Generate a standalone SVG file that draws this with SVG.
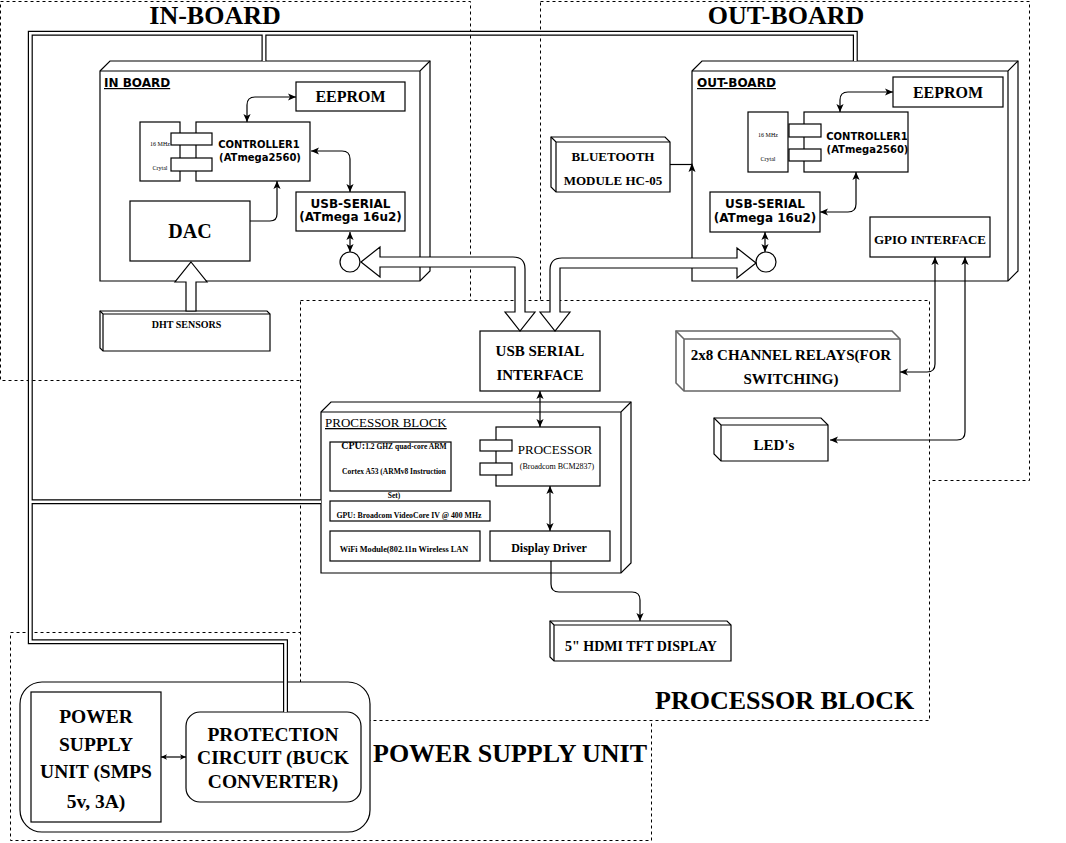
<svg xmlns="http://www.w3.org/2000/svg" width="1066" height="843" viewBox="0 0 1066 843">
<style>
.sb{font-family:"Liberation Serif","Times New Roman",serif;font-weight:bold;fill:#000}
.sr{font-family:"Liberation Serif","Times New Roman",serif;fill:#000}
.vb{font-family:"DejaVu Sans",Verdana,sans-serif;font-weight:bold;fill:#000}
.m{text-anchor:middle}
.u{text-decoration:underline}
.box{fill:#fff;stroke:#000;stroke-width:1.2}
.ln{fill:none;stroke:#000;stroke-width:1.2}
.gbox{fill:#fff;stroke:#666;stroke-width:1.6}
.gln{fill:none;stroke:#666;stroke-width:1.6}
.dash{fill:none;stroke:#000;stroke-width:1;stroke-dasharray:3 3}
.dashw{fill:#fff;stroke:#000;stroke-width:1;stroke-dasharray:3 3}
.arr{fill:none;stroke:#000;stroke-width:1.2;marker-start:url(#ah);marker-end:url(#ah)}
.arr1{fill:none;stroke:#000;stroke-width:1.2;marker-end:url(#ah)}
.arrs{fill:none;stroke:#000;stroke-width:1.2;marker-start:url(#ahs);marker-end:url(#ahs)}
.busb{fill:none;stroke:#000;stroke-width:5}
.busw{fill:none;stroke:#fff;stroke-width:2.6}
.flex{fill:#fff;stroke:#000;stroke-width:1.2}
.title{font-size:26px}
</style>
<defs>
<marker id="ah" viewBox="0 0 10 10" refX="10" refY="5" markerWidth="8" markerHeight="8" markerUnits="userSpaceOnUse" orient="auto-start-reverse">
<path d="M0,0.5 L10,5 L0,9.5 L2.5,5 Z" fill="#000"/>
</marker>
<marker id="ahs" viewBox="0 0 10 10" refX="10" refY="5" markerWidth="6" markerHeight="6" markerUnits="userSpaceOnUse" orient="auto-start-reverse">
<path d="M0,0.5 L10,5 L0,9.5 L2.5,5 Z" fill="#000"/>
</marker>
</defs>
<rect x="0" y="0" width="1066" height="843" fill="#fff"/>

<g id="psu-container">
<rect class="dash" x="10.5" y="632.5" width="641" height="208"/>
<text class="sb title" x="373" y="762">POWER SUPPLY UNIT</text>
</g>
<g id="inboard-container">
<rect class="dash" x="0.5" y="1.5" width="470" height="379"/>
<text class="sb m title" x="215" y="24">IN-BOARD</text>
</g>
<g id="outboard-container">
<rect class="dash" x="540.5" y="1.5" width="489" height="479"/>
<text class="sb m title" x="786" y="24">OUT-BOARD</text>
</g>
<g id="processor-container">
<rect class="dashw" x="300.5" y="300.5" width="629" height="420"/>
<text class="sb title" x="655" y="709">PROCESSOR BLOCK</text>
</g>

<g id="in-board">
<path class="box" d="M100,71 L110,61 L430,61 L430,271 L420,281 L100,281 Z"/>
<path class="ln" d="M100,71 H420 L430,61 M420,71 V281"/>
<text class="vb u" x="104" y="87" font-size="12">IN BOARD</text>
</g>
<g id="in-eeprom">
<rect class="box" x="296" y="82" width="109" height="29"/>
<text class="sb m" x="350.5" y="102" font-size="16">EEPROM</text>
</g>
<g id="in-crystal">
<rect class="box" x="140" y="122" width="40" height="59"/>
<text class="sr m" x="160" y="146" font-size="6">16 MHz</text>
<text class="sr m" x="160" y="170" font-size="6">Crytal</text>
</g>
<g id="in-controller">
<rect class="box" x="196" y="122" width="114" height="59"/>
<rect class="box" x="171" y="133" width="41" height="12"/>
<rect class="box" x="171" y="158" width="41" height="13"/>
<text class="vb m" x="259" y="148" font-size="10">CONTROLLER1</text>
<text class="vb m" x="260" y="161" font-size="10">(ATmega2560)</text>
</g>
<g id="in-usbserial">
<rect class="box" x="296" y="192" width="109" height="39"/>
<text class="vb m" x="350.5" y="208" font-size="12">USB-SERIAL</text>
<text class="vb m" x="350.5" y="221" font-size="12">(ATmega 16u2)</text>
</g>
<g id="in-dac">
<rect class="box" x="130" y="201" width="120" height="60"/>
<text class="sb m" x="190" y="238" font-size="20">DAC</text>
</g>
<g id="in-port">
<circle class="box" cx="350" cy="262" r="10"/>
</g>
<g id="dht">
<path class="box" d="M100,311 H267 L270,314 V351 H103 L100,348 Z"/>
<path class="ln" d="M100,311 L103,314 H270 M103,314 V351"/>
<text class="sb m" x="186.5" y="328" font-size="10">DHT SENSORS</text>
</g>

<g id="out-board">
<path class="box" d="M692,71 L702,61 L1018,61 L1018,271 L1008,281 L692,281 Z"/>
<path class="ln" d="M692,71 H1008 L1018,61 M1008,71 V281"/>
<text class="vb u" x="697" y="87" font-size="12">OUT-BOARD</text>
</g>
<g id="out-eeprom">
<rect class="box" x="893" y="77" width="110" height="30"/>
<text class="sb m" x="948" y="98" font-size="16">EEPROM</text>
</g>
<g id="out-crystal">
<rect class="box" x="748" y="112" width="40" height="60"/>
<text class="sr m" x="768" y="137" font-size="6">16 MHz</text>
<text class="sr m" x="768" y="161" font-size="6">Crytal</text>
</g>
<g id="out-controller">
<rect class="box" x="804" y="112" width="104" height="60"/>
<rect class="box" x="789" y="124" width="32" height="13"/>
<rect class="box" x="789" y="149" width="32" height="12"/>
<text class="vb m" x="867" y="140" font-size="10">CONTROLLER1</text>
<text class="vb m" x="867.5" y="153" font-size="10">(ATmega2560)</text>
</g>
<g id="out-usbserial">
<rect class="box" x="710" y="192" width="110" height="40"/>
<text class="vb m" x="765" y="208" font-size="12">USB-SERIAL</text>
<text class="vb m" x="765" y="222" font-size="12">(ATmega 16u2)</text>
</g>
<g id="out-port">
<circle class="box" cx="766" cy="262" r="10"/>
</g>
<g id="gpio">
<rect class="box" x="870" y="217" width="120" height="40"/>
<text class="sb m" x="930" y="244" font-size="13">GPIO INTERFACE</text>
</g>
<g id="bluetooth">
<path class="box" d="M551,137 H665 L670,142 V192 H556 L551,187 Z"/>
<path class="ln" d="M551,137 L556,142 H670 M556,142 V192"/>
<text class="sb m" x="613" y="161" font-size="13">BLUETOOTH</text>
<text class="sb m" x="613" y="185" font-size="13">MODULE HC-05</text>
</g>
<g id="relays">
<path class="gbox" d="M676,331 H892 L900,339 V391 H684 L676,383 Z"/>
<path class="gln" d="M676,331 L684,339 H900 M684,339 V391"/>
<text class="sb m" x="791" y="360" font-size="15">2x8 CHANNEL RELAYS(FOR</text>
<text class="sb m" x="791" y="384" font-size="15">SWITCHING)</text>
</g>
<g id="leds">
<path class="box" d="M714,418 H821 L828,425 V461 H721 L714,454 Z"/>
<path class="ln" d="M714,418 L721,425 H828 M721,425 V461"/>
<text class="sb m" x="774" y="450" font-size="15">LED's</text>
</g>

<g id="usb-serial-interface">
<rect class="box" x="480" y="331" width="120" height="60"/>
<text class="sb m" x="540" y="356" font-size="15">USB SERIAL</text>
<text class="sb m" x="540" y="380" font-size="15">INTERFACE</text>
</g>
<g id="processor-block">
<path class="box" d="M321,412 L331,402 L631,402 L631,563 L621,573 L321,573 Z"/>
<path class="ln" d="M321,412 H621 L631,402 M621,412 V573"/>
<text class="sr u" x="325" y="427" font-size="13">PROCESSOR BLOCK</text>
</g>
<g id="cpu">
<rect class="box" x="330" y="442" width="121" height="49"/>
<text class="sb m" x="394" y="449" font-size="7.5"><tspan font-size="10">CPU:</tspan>1.2 GHZ quad-core ARM</text>
<text class="sb m" x="394" y="474" font-size="7.5">Cortex A53 (ARMv8 Instruction</text>
<text class="sb m" x="394" y="498" font-size="7.5">Set)</text>
</g>
<g id="gpu">
<rect class="box" x="330" y="501" width="160" height="20"/>
<text class="sb m" x="409" y="518" font-size="7.8">GPU: Broadcom VideoCore IV @ 400 MHz</text>
</g>
<g id="wifi">
<rect class="box" x="330" y="531" width="150" height="30"/>
<text class="sb m" x="404" y="552" font-size="8.3">WiFi Module(802.11n Wireless LAN</text>
</g>
<g id="display-driver">
<rect class="box" x="490" y="531" width="120" height="30"/>
<text class="sb m" x="549" y="552" font-size="12">Display Driver</text>
</g>
<g id="processor">
<rect class="box" x="496" y="427" width="104" height="59"/>
<rect class="box" x="480" y="440" width="32" height="11"/>
<rect class="box" x="480" y="463" width="32" height="12"/>
<text class="sr m" x="555" y="454" font-size="13">PROCESSOR</text>
<text class="sr m" x="557" y="469" font-size="8">(Broadcom BCM2837)</text>
</g>
<g id="hdmi">
<path class="box" d="M550,621 H727 L731,625 V661 H554 L550,657 Z"/>
<path class="ln" d="M550,621 L554,625 H731 M554,625 V661"/>
<text class="sb m" x="641" y="651" font-size="14">5" HDMI TFT DISPLAY</text>
</g>

<g id="psu-outer">
<rect class="box" x="20" y="682" width="350" height="150" rx="22"/>
</g>
<g id="power-supply">
<rect class="box" x="31" y="692" width="130" height="130"/>
<text class="sb m" x="96" y="722.5" font-size="19.5">POWER</text>
<text class="sb m" x="96" y="750.5" font-size="19.5">SUPPLY</text>
<text class="sb m" x="96" y="778" font-size="19.5">UNIT (SMPS</text>
<text class="sb m" x="96" y="807.5" font-size="19.5">5v, 3A)</text>
</g>
<g id="protection">
<rect class="box" x="186" y="712" width="175" height="90" rx="14"/>
<text class="sb m" x="273" y="740.5" font-size="19.5">PROTECTION</text>
<text class="sb m" x="273" y="764" font-size="19.5">CIRCUIT (BUCK</text>
<text class="sb m" x="273" y="788" font-size="19.5">CONVERTER)</text>
</g>

<g id="connectors">
<path class="busb" d="M855.3,61 V33.3 H30.3 V641.7 H285.5 V712 M264,33.3 V61 M30.3,501.7 H321"/>
<path class="busw" d="M855.3,61 V33.3 H30.3 V641.7 H285.5 V712 M264,33.3 V61 M30.3,501.7 H321"/>
<path class="flex" d="M361,262 L380,247 L380,257 L513,257 Q525,257 525,269 L525,312 L535,312 L520,331 L505,312 L515,312 L515,267 L380,267 L380,277 Z"/>
<path class="flex" d="M756,263 L737,248 L737,258 L562,258 Q550,258 550,270 L550,312 L540,312 L555,331 L570,312 L560,312 L560,268 L737,268 L737,278 Z"/>
<path class="flex" d="M191,262 L207,282 L196,282 L196,311 L186,311 L186,282 L175,282 Z"/>
<path class="arr" d="M296,97 L255,97 Q247,97 247,105 L247,122"/>
<path class="arr" d="M311,151 L342,151 Q350,151 350,159 L350,192"/>
<path class="arr1" d="M250,221 L270,221 Q277,221 277,214 L277,181"/>
<path class="arr" d="M350,232 L350,252"/>
<path class="arr" d="M893,92 L848,92 Q840,92 840,100 L840,112"/>
<path class="arr" d="M856,172 L856,204 Q856,212 848,212 L820,212"/>
<path class="arr" d="M765,232 L765,252"/>
<path class="ln" d="M670,164.5 H692"/>
<path d="M692,163 L688.5,172 L692,170 L695.5,172 Z" fill="#000"/>
<path class="arr" d="M935,257 L935,364 Q935,372 927,372 L900,372"/>
<path class="arr" d="M965,257 L965,432 Q965,440 957,440 L830,440"/>
<path class="arr" d="M540,391 L540,427"/>
<path class="arr" d="M550,486 L550,531"/>
<path class="arr1" d="M551,561 L551,584 Q551,592 559,592 L632,592 Q640,592 640,600 L640,621"/>
<path class="arrs" d="M161,757 L186,757"/>
</g>
</svg>
